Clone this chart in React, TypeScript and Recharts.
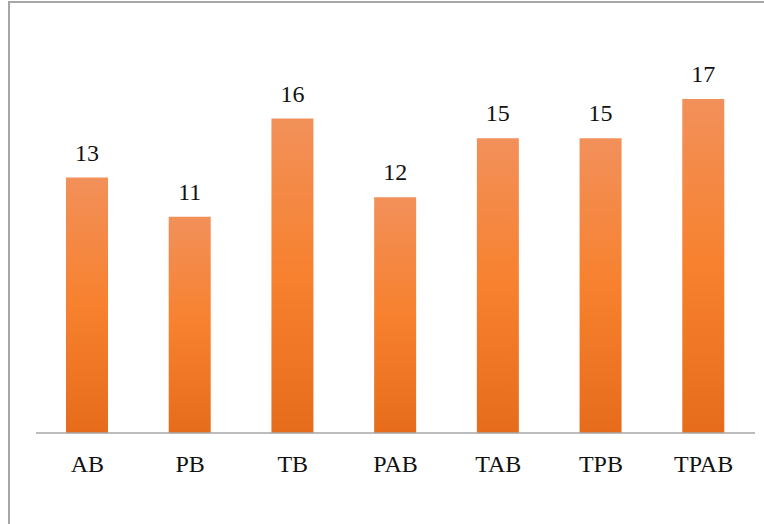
import { BarChart, Bar, XAxis, YAxis, LabelList } from 'recharts';

const categories = ['AB', 'PB', 'TB', 'PAB', 'TAB', 'TPB', 'TPAB'];
const counts = [13, 11, 16, 12, 15, 15, 17];

const data = categories.map((name, i) => ({ name, value: counts[i] }));

const FONT = "'Liberation Serif', 'Times New Roman', Times, serif";

function CategoryTick(props: any) {
  const { x, y, payload } = props;
  return (
    <text x={x} y={y + 31} textAnchor="middle" fill="#111" style={{ fontFamily: FONT, fontSize: 24 }}>
      {payload.value}
    </text>
  );
}

function ValueLabel(props: any) {
  const { x, y, width, value } = props;
  return (
    <text x={x + width / 2} y={y - 17} textAnchor="middle" fill="#111" style={{ fontFamily: FONT, fontSize: 24 }}>
      {value}
    </text>
  );
}

export default function App() {
  return (
    <div style={{ position: 'fixed', left: 0, top: 0, width: 764, height: 524, background: '#fff', overflow: 'hidden' }}>
      {/* frame */}
      <div
        style={{
          position: 'absolute',
          left: 8,
          top: 1,
          width: 800,
          height: 600,
          borderLeft: '2px solid #a6a6a6',
          borderTop: '2px solid #a6a6a6',
        }}
      />
      <BarChart
        width={764}
        height={524}
        data={data}
        margin={{ top: 40, right: 9, bottom: 61, left: 36 }}
        barCategoryGap={0}
        style={{ position: 'absolute', left: 0, top: 0 }}
      >
        <defs>
          <linearGradient id="barFill" x1="0" y1="0" x2="0" y2="1">
            <stop offset="0%" stopColor="#F2905A" />
            <stop offset="50%" stopColor="#F7812E" />
            <stop offset="100%" stopColor="#E66C1B" />
          </linearGradient>
        </defs>
        <YAxis hide domain={[0, 20]} />
        <XAxis
          dataKey="name"
          height={30}
          axisLine={{ stroke: '#a6a6a6', strokeWidth: 1.5 }}
          tickLine={false}
          tick={<CategoryTick />}
          interval={0}
        />
        <Bar dataKey="value" fill="url(#barFill)" barSize={42} isAnimationActive={false}>
          <LabelList dataKey="value" content={<ValueLabel />} />
        </Bar>
      </BarChart>
    </div>
  );
}
